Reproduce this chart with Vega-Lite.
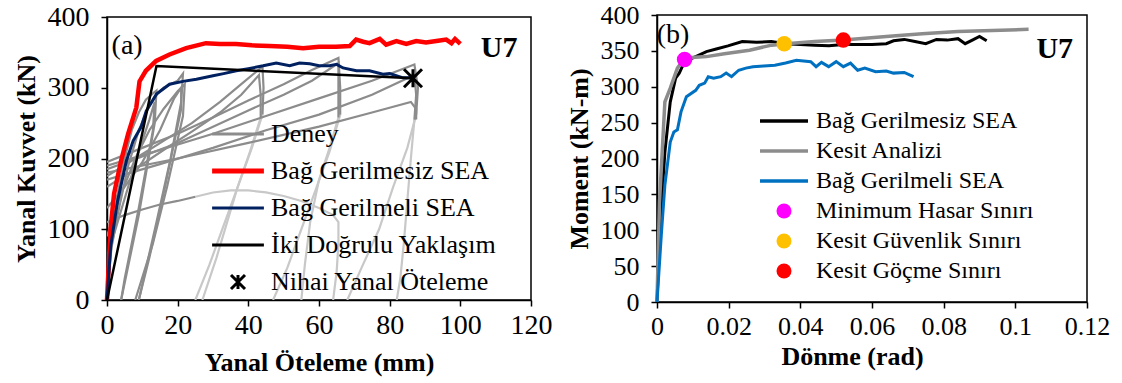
{
  "$schema": "https://vega.github.io/schema/vega-lite/v6.json",
  "background": "white",
  "padding": {"left": 12, "top": 1, "right": 5, "bottom": 2},
  "config": {
    "font": "Liberation Serif",
    "view": {"stroke": "black", "strokeWidth": 1.5},
    "axis": {"grid": false, "domainColor": "black", "domainWidth": 1.5, "tickColor": "black", "tickWidth": 1.5, "tickSize": 6,
             "labelColor": "black", "labelFont": "Liberation Serif", "titleFont": "Liberation Serif", "titleColor": "black",
             "titleFontWeight": "bold", "titleFontSize": 26, "labelFontSize": 28, "labelFlush": false, "labelOverlap": false},
    "legend": {"labelFont": "Liberation Serif", "labelColor": "black", "labelLimit": 500, "title": null}
  },
  "datasets": {
    "deneyY": [
      {"c":1,"x":0,"y":0},{"c":1,"x":1,"y":60},{"c":1,"x":2,"y":110},{"c":1,"x":3,"y":150},{"c":1,"x":5,"y":200},{"c":1,"x":7,"y":240},{"c":1,"x":9,"y":265},{"c":1,"x":11,"y":283},{"c":1,"x":13,"y":292},{"c":1,"x":14,"y":296},{"c":1,"x":13.5,"y":250},{"c":1,"x":9,"y":120},{"c":1,"x":4,"y":0},
      {"c":2,"x":0,"y":40},{"c":2,"x":3,"y":120},{"c":2,"x":6,"y":190},{"c":2,"x":9,"y":240},{"c":2,"x":12,"y":275},{"c":2,"x":14,"y":290},{"c":2,"x":16,"y":300},{"c":2,"x":18,"y":305},{"c":2,"x":20,"y":310},{"c":2,"x":21.5,"y":320},{"c":2,"x":21,"y":280},{"c":2,"x":18,"y":200},{"c":2,"x":14,"y":110},{"c":2,"x":9,"y":0},
      {"c":3,"x":0,"y":90},{"c":3,"x":4,"y":150},{"c":3,"x":8,"y":200},{"c":3,"x":12,"y":240},{"c":3,"x":16,"y":270},{"c":3,"x":20,"y":295},{"c":3,"x":22,"y":305},{"c":3,"x":21.5,"y":260},{"c":3,"x":17,"y":160},{"c":3,"x":13,"y":80},{"c":3,"x":8,"y":0},
      {"c":4,"x":0,"y":175},{"c":4,"x":8,"y":200},{"c":4,"x":16,"y":225},{"c":4,"x":24,"y":250},{"c":4,"x":32,"y":280},{"c":4,"x":38,"y":305},{"c":4,"x":44,"y":330},{"c":4,"x":44.3,"y":300},{"c":4,"x":44,"y":262},
      {"c":5,"x":0,"y":160},{"c":5,"x":8,"y":185},{"c":5,"x":16,"y":212},{"c":5,"x":24,"y":238},{"c":5,"x":32,"y":265},{"c":5,"x":38,"y":290},{"c":5,"x":43,"y":318},{"c":5,"x":43.5,"y":290},{"c":5,"x":43.5,"y":258},
      {"c":6,"x":0,"y":195},{"c":6,"x":10,"y":215},{"c":6,"x":20,"y":235},{"c":6,"x":30,"y":258},{"c":6,"x":40,"y":282},{"c":6,"x":50,"y":305},{"c":6,"x":58,"y":325},{"c":6,"x":65.5,"y":342},{"c":6,"x":66,"y":300},{"c":6,"x":66,"y":262},
      {"c":7,"x":0,"y":185},{"c":7,"x":10,"y":203},{"c":7,"x":20,"y":222},{"c":7,"x":30,"y":245},{"c":7,"x":40,"y":268},{"c":7,"x":50,"y":290},{"c":7,"x":58,"y":310},{"c":7,"x":65.5,"y":335},{"c":7,"x":65.5,"y":295},{"c":7,"x":65.5,"y":258},
      {"c":8,"x":0,"y":190},{"c":8,"x":15,"y":212},{"c":8,"x":30,"y":235},{"c":8,"x":45,"y":260},{"c":8,"x":60,"y":285},{"c":8,"x":75,"y":310},{"c":8,"x":87,"y":333},{"c":8,"x":88,"y":300},{"c":8,"x":87.5,"y":262},
      {"c":9,"x":0,"y":170},{"c":9,"x":15,"y":192},{"c":9,"x":30,"y":215},{"c":9,"x":45,"y":240},{"c":9,"x":60,"y":262},{"c":9,"x":75,"y":290},{"c":9,"x":87,"y":318},{"c":9,"x":87.5,"y":290},{"c":9,"x":87,"y":255},
      {"c":10,"x":0,"y":180},{"c":10,"x":20,"y":200},{"c":10,"x":40,"y":222},{"c":10,"x":60,"y":245},{"c":10,"x":75,"y":265},{"c":10,"x":86,"y":280},{"c":10,"x":87.5,"y":270},{"c":10,"x":87.5,"y":255},
      {"c":11,"x":0,"y":110},{"c":11,"x":5,"y":120},{"c":11,"x":10,"y":128},{"c":11,"x":15,"y":135},{"c":11,"x":20,"y":140},{"c":11,"x":25,"y":146},
      {"c":12,"x":0,"y":130},{"c":12,"x":5,"y":160},{"c":12,"x":10,"y":195},{"c":12,"x":15,"y":240},{"c":12,"x":19,"y":285},{"c":12,"x":21,"y":300},{"c":12,"x":21,"y":270},{"c":12,"x":16,"y":150},{"c":12,"x":12,"y":60},{"c":12,"x":9,"y":0},
      {"c":13,"x":0,"y":60},{"c":13,"x":3,"y":110},{"c":13,"x":6,"y":160},{"c":13,"x":9,"y":210},{"c":13,"x":12,"y":255},{"c":13,"x":13.5,"y":280},{"c":13,"x":13,"y":240},{"c":13,"x":9,"y":130},{"c":13,"x":5,"y":30},{"c":13,"x":4,"y":0}
    ],
    "deneyB": [
      {"c":21,"x":44,"y":262},{"c":21,"x":41,"y":215},{"c":21,"x":37,"y":160},{"c":21,"x":33,"y":105},{"c":21,"x":29,"y":50},{"c":21,"x":25,"y":0},
      {"c":22,"x":43.5,"y":258},{"c":22,"x":40.5,"y":210},{"c":22,"x":37,"y":160},{"c":22,"x":34,"y":110},{"c":22,"x":31,"y":60},{"c":22,"x":27,"y":0},
      {"c":23,"x":66,"y":262},{"c":23,"x":63,"y":210},{"c":23,"x":59,"y":155},{"c":23,"x":55,"y":100},{"c":23,"x":51,"y":45},{"c":23,"x":47,"y":0},
      {"c":24,"x":65.5,"y":258},{"c":24,"x":63,"y":215},{"c":24,"x":60,"y":170},{"c":24,"x":57.5,"y":110},{"c":24,"x":56,"y":50},{"c":24,"x":55,"y":0},
      {"c":25,"x":87.5,"y":262},{"c":25,"x":85,"y":215},{"c":25,"x":81,"y":160},{"c":25,"x":77,"y":100},{"c":25,"x":72,"y":45},{"c":25,"x":68,"y":0},
      {"c":26,"x":87,"y":255},{"c":26,"x":86,"y":200},{"c":26,"x":85,"y":140},{"c":26,"x":84,"y":80},{"c":26,"x":83,"y":30},{"c":26,"x":82,"y":0},
      {"c":27,"x":25,"y":146},{"c":27,"x":30,"y":152},{"c":27,"x":35,"y":155},{"c":27,"x":40,"y":155},{"c":27,"x":45,"y":152},{"c":27,"x":50,"y":147},{"c":27,"x":55,"y":140},{"c":27,"x":60,"y":130},{"c":27,"x":64,"y":120},{"c":27,"x":65.5,"y":110},{"c":27,"x":65.5,"y":80},{"c":27,"x":65,"y":40},{"c":27,"x":64,"y":0}
    ],
    "redA": [
      {"x":0,"y":0},{"x":1,"y":100},{"x":2,"y":150},{"x":4,"y":197},{"x":6,"y":235},{"x":8.3,"y":272},{"x":9.2,"y":309},{"x":11,"y":324},{"x":13.9,"y":338},{"x":17.7,"y":347},{"x":22.4,"y":356},{"x":28,"y":363},{"x":32,"y":362},{"x":36.5,"y":362},{"x":41,"y":360},{"x":46,"y":359},{"x":51,"y":358},{"x":55.5,"y":356},{"x":60,"y":358},{"x":64.8,"y":358},{"x":68.7,"y":359},{"x":70.5,"y":368},{"x":72.5,"y":365},{"x":74.3,"y":363},{"x":77.2,"y":369},{"x":79,"y":361},{"x":81.9,"y":366},{"x":84.7,"y":362},{"x":87.5,"y":366},{"x":90.3,"y":364},{"x":93.2,"y":366},{"x":96,"y":368},{"x":97.5,"y":363},{"x":98.5,"y":369},{"x":100,"y":362}
    ],
    "navyA": [
      {"x":0,"y":0},{"x":1,"y":74},{"x":3,"y":140},{"x":5.5,"y":197},{"x":7.4,"y":225},{"x":9.6,"y":244},{"x":11.1,"y":267},{"x":14,"y":291},{"x":17.7,"y":305},{"x":21.5,"y":309},{"x":25.3,"y":312},{"x":30,"y":317},{"x":33,"y":320},{"x":36.6,"y":324},{"x":40,"y":327},{"x":44.2,"y":331},{"x":47.9,"y":335},{"x":51.7,"y":331},{"x":54.5,"y":335},{"x":57.4,"y":334},{"x":60,"y":331},{"x":63,"y":331},{"x":65,"y":333},{"x":66.8,"y":328},{"x":70.6,"y":324},{"x":74.3,"y":324},{"x":78.1,"y":319},{"x":80,"y":320},{"x":83.8,"y":314},{"x":86.6,"y":314}
    ],
    "bilinA": [
      {"x":0,"y":0},{"x":14,"y":330.7},{"x":86.6,"y":313.4}
    ],
    "blackB": [
      {"x":0,"y":0},{"x":0.0007,"y":93},{"x":0.0022,"y":209},{"x":0.0037,"y":279},{"x":0.0052,"y":312},{"x":0.0062,"y":319},{"x":0.0077,"y":335},{"x":0.0108,"y":342},{"x":0.0138,"y":349},{"x":0.0168,"y":353},{"x":0.0198,"y":357},{"x":0.0238,"y":363},{"x":0.0278,"y":362},{"x":0.0319,"y":363},{"x":0.036,"y":360},{"x":0.04,"y":359},{"x":0.044,"y":358},{"x":0.048,"y":357},{"x":0.052,"y":359},{"x":0.056,"y":359},{"x":0.06,"y":359},{"x":0.064,"y":360},{"x":0.066,"y":364},{"x":0.069,"y":366},{"x":0.072,"y":363},{"x":0.075,"y":360},{"x":0.078,"y":366},{"x":0.081,"y":365},{"x":0.084,"y":367},{"x":0.086,"y":360},{"x":0.088,"y":365},{"x":0.09,"y":370},{"x":0.092,"y":364}
    ],
    "grayB": [
      {"x":0,"y":0},{"x":0.0007,"y":140},{"x":0.0022,"y":279},{"x":0.0037,"y":298},{"x":0.0057,"y":326},{"x":0.0077,"y":340},{"x":0.0138,"y":342},{"x":0.0188,"y":346},{"x":0.0258,"y":351},{"x":0.032,"y":358},{"x":0.036,"y":360},{"x":0.044,"y":363},{"x":0.052,"y":365},{"x":0.064,"y":370},{"x":0.074,"y":374},{"x":0.084,"y":377},{"x":0.1037,"y":380}
    ],
    "blueB": [
      {"x":0,"y":0},{"x":0.0012,"y":93},{"x":0.0022,"y":163},{"x":0.0037,"y":223},{"x":0.0047,"y":237},{"x":0.0057,"y":240},{"x":0.0067,"y":265},{"x":0.0082,"y":286},{"x":0.0108,"y":295},{"x":0.0118,"y":302},{"x":0.0133,"y":305},{"x":0.0143,"y":314},{"x":0.0158,"y":312},{"x":0.0178,"y":314},{"x":0.0193,"y":319},{"x":0.0208,"y":314},{"x":0.0228,"y":323},{"x":0.0248,"y":326},{"x":0.0268,"y":328},{"x":0.0298,"y":329},{"x":0.0329,"y":330},{"x":0.0359,"y":333},{"x":0.0389,"y":337},{"x":0.0429,"y":335},{"x":0.0444,"y":328},{"x":0.0459,"y":334},{"x":0.0479,"y":328},{"x":0.05,"y":335},{"x":0.052,"y":328},{"x":0.054,"y":333},{"x":0.056,"y":323},{"x":0.058,"y":326},{"x":0.061,"y":321},{"x":0.064,"y":322},{"x":0.066,"y":319},{"x":0.069,"y":320},{"x":0.0716,"y":314}
    ],
    "pointsB": [
      {"s":"Minimum Hasar Sınırı","x":0.0077,"y":338},
      {"s":"Kesit Güvenlik Sınırı","x":0.0355,"y":360},
      {"s":"Kesit Göçme Sınırı","x":0.052,"y":365}
    ]
  },
  "hconcat": [
    {
      "width": 424,
      "height": 283,
      "encoding": {
        "x": {"field": "x", "type": "quantitative", "scale": {"domain": [0, 120], "nice": false},
              "axis": {"title": "Yanal Öteleme (mm)", "values": [0,20,40,60,80,100,120], "labelPadding": 5, "titlePadding": 10}},
        "y": {"field": "y", "type": "quantitative", "scale": {"domain": [0, 400], "nice": false},
              "axis": {"title": "Yanal Kuvvet (kN)", "values": [0,100,200,300,400], "labelPadding": 12, "titlePadding": 8}}
      },
      "layer": [
        {
          "data": {"name": "deneyB"},
          "mark": {"type": "line", "strokeWidth": 2.2, "color": "#c8c8c8", "clip": true},
          "encoding": {"detail": {"field": "c"}, "order": {"value": null}}
        },
        {
          "data": {"name": "deneyY"},
          "transform": [{"calculate": "'Deney'", "as": "s"}],
          "mark": {"type": "line", "strokeWidth": 2.2, "clip": true},
          "encoding": {
            "detail": {"field": "c"},
            "order": {"value": null},
            "color": {"field": "s", "type": "nominal",
              "scale": {"domain": ["Deney","Bağ Gerilmesiz SEA","Bağ Gerilmeli SEA","İki Doğrulu Yaklaşım","Nihai Yanal Öteleme"],
                        "range": ["#8c8c8c","#ff0000","#002060","#000000","#000000"]},
              "legend": {"orient": "none", "legendX": 118, "legendY": 104, "labelFontSize": 26, "symbolSize": 196, "symbolStrokeWidth": 3,
                "rowPadding": 11, "labelOffset": 20,
                "encode": {"symbols": {"update": {
                  "shape": {"signal": "datum.value === 'Nihai Yanal Öteleme' ? 'M-1,-1L1,1M-1,1L1,-1M0,-1L0,1' : 'M-3.7,0L3.7,0'"},
                  "stroke": {"signal": "datum.value === 'Deney' ? '#8c8c8c' : datum.value === 'Bağ Gerilmesiz SEA' ? '#ff0000' : datum.value === 'Bağ Gerilmeli SEA' ? '#002060' : '#000000'"},
                  "strokeWidth": {"signal": "datum.value === 'Bağ Gerilmesiz SEA' ? 5 : 3"},
                  "fill": {"value": "transparent"},
                  "opacity": {"value": 1}
                }}}}
            }
          }
        },
        {
          "data": {"name": "redA"},
          "transform": [{"calculate": "'Bağ Gerilmesiz SEA'", "as": "s"}],
          "mark": {"type": "line", "strokeWidth": 4.5},
          "encoding": {"color": {"field": "s", "type": "nominal"}, "order": {"value": null}}
        },
        {
          "data": {"name": "navyA"},
          "transform": [{"calculate": "'Bağ Gerilmeli SEA'", "as": "s"}],
          "mark": {"type": "line", "strokeWidth": 3},
          "encoding": {"color": {"field": "s", "type": "nominal"}, "order": {"value": null}}
        },
        {
          "data": {"name": "bilinA"},
          "transform": [{"calculate": "'İki Doğrulu Yaklaşım'", "as": "s"}],
          "mark": {"type": "line", "strokeWidth": 2.5},
          "encoding": {"color": {"field": "s", "type": "nominal"}, "order": {"value": null}}
        },
        {
          "data": {"values": [{"s": "Nihai Yanal Öteleme", "x": 86.6, "y": 313.5}]},
          "mark": {"type": "point", "shape": "M-1,-1L1,1M-1,1L1,-1M0,-1L0,1", "size": 324, "strokeWidth": 3, "filled": false, "opacity": 1},
          "encoding": {"color": {"field": "s", "type": "nominal"}}
        },
        {
          "data": {"values": [{"t": "(a)", "x": 5.7, "y": 359}]},
          "mark": {"type": "text", "font": "Liberation Serif", "fontSize": 28, "align": "center", "baseline": "middle", "color": "black"},
          "encoding": {"text": {"field": "t"}}
        },
        {
          "data": {"values": [{"t": "U7", "x": 111, "y": 356}]},
          "mark": {"type": "text", "font": "Liberation Serif", "fontSize": 30, "fontWeight": "bold", "align": "center", "baseline": "middle", "color": "black"},
          "encoding": {"text": {"field": "t"}}
        }
      ]
    },
    {
      "width": 430,
      "height": 287,
      "encoding": {
        "x": {"field": "x", "type": "quantitative", "scale": {"domain": [0, 0.12], "nice": false},
              "axis": {"title": "Dönme (rad)", "values": [0,0.02,0.04,0.06,0.08,0.1,0.12], "labelExpr": "datum.value === 0 ? '0' : format(datum.value, '.2~f')", "labelFontSize": 26, "labelPadding": 5, "titlePadding": 4, "titleX": 195}},
        "y": {"field": "y", "type": "quantitative", "scale": {"domain": [0, 400], "nice": false},
              "axis": {"title": "Moment (kN-m)", "values": [0,50,100,150,200,250,300,350,400], "labelFontSize": 26, "labelPadding": 12, "titlePadding": 8}}
      },
      "layer": [
        {
          "data": {"name": "blackB"},
          "transform": [{"calculate": "'Bağ Gerilmesiz SEA'", "as": "s"}],
          "mark": {"type": "line", "strokeWidth": 3},
          "encoding": {
            "order": {"value": null},
            "color": {"field": "s", "type": "nominal",
              "scale": {"domain": ["Bağ Gerilmesiz SEA","Kesit Analizi","Bağ Gerilmeli SEA","Minimum Hasar Sınırı","Kesit Güvenlik Sınırı","Kesit Göçme Sınırı"],
                        "range": ["#000000","#8c8c8c","#0070c0","#ff00ff","#ffc000","#ff0000"]},
              "legend": {"orient": "none", "legendX": 115, "legendY": 94, "labelFontSize": 24, "symbolSize": 225, "symbolStrokeWidth": 3,
                "rowPadding": 6, "labelOffset": 20,
                "encode": {"symbols": {"update": {
                  "shape": {"signal": "indexof(['Minimum Hasar Sınırı','Kesit Güvenlik Sınırı','Kesit Göçme Sınırı'], datum.value) >= 0 ? 'circle' : 'M-3.2,0L3.2,0'"},
                  "stroke": {"signal": "datum.value === 'Bağ Gerilmesiz SEA' ? '#000000' : datum.value === 'Kesit Analizi' ? '#8c8c8c' : datum.value === 'Bağ Gerilmeli SEA' ? '#0070c0' : datum.value === 'Minimum Hasar Sınırı' ? '#ff00ff' : datum.value === 'Kesit Güvenlik Sınırı' ? '#ffc000' : '#ff0000'"},
                  "fill": {"signal": "datum.value === 'Minimum Hasar Sınırı' ? '#ff00ff' : datum.value === 'Kesit Güvenlik Sınırı' ? '#ffc000' : datum.value === 'Kesit Göçme Sınırı' ? '#ff0000' : 'transparent'"},
                  "strokeWidth": {"signal": "indexof(['Minimum Hasar Sınırı','Kesit Güvenlik Sınırı','Kesit Göçme Sınırı'], datum.value) >= 0 ? 0 : 3.5"},
                  "opacity": {"value": 1}
                }}}}
            }
          }
        },
        {
          "data": {"name": "grayB"},
          "transform": [{"calculate": "'Kesit Analizi'", "as": "s"}],
          "mark": {"type": "line", "strokeWidth": 3.5},
          "encoding": {"color": {"field": "s", "type": "nominal"}, "order": {"value": null}}
        },
        {
          "data": {"name": "blueB"},
          "transform": [{"calculate": "'Bağ Gerilmeli SEA'", "as": "s"}],
          "mark": {"type": "line", "strokeWidth": 3},
          "encoding": {"color": {"field": "s", "type": "nominal"}, "order": {"value": null}}
        },
        {
          "data": {"name": "pointsB"},
          "mark": {"type": "point", "shape": "circle", "filled": true, "size": 240, "opacity": 1},
          "encoding": {"color": {"field": "s", "type": "nominal"}}
        },
        {
          "data": {"values": [{"t": "(b)", "x": 0.0045, "y": 372}]},
          "mark": {"type": "text", "font": "Liberation Serif", "fontSize": 28, "align": "center", "baseline": "middle", "color": "black"},
          "encoding": {"text": {"field": "t"}}
        },
        {
          "data": {"values": [{"t": "U7", "x": 0.111, "y": 352}]},
          "mark": {"type": "text", "font": "Liberation Serif", "fontSize": 30, "fontWeight": "bold", "align": "center", "baseline": "middle", "color": "black"},
          "encoding": {"text": {"field": "t"}}
        }
      ]
    }
  ],
  "spacing": 126,
  "bounds": "flush",
  "center": true,
  "resolve": {"scale": {"color": "independent"}, "legend": {"color": "independent"}}
}
